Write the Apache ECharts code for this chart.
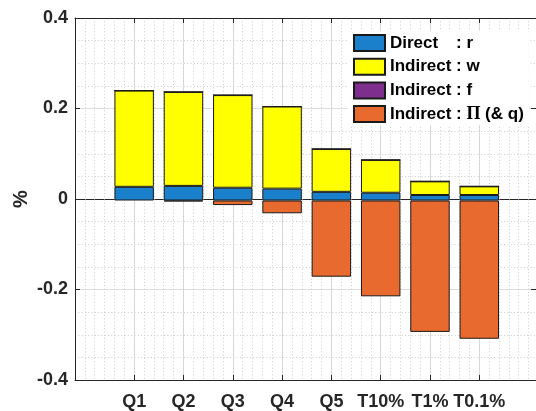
<!DOCTYPE html>
<html>
<head>
<meta charset="utf-8">
<script src="https://cdn.jsdelivr.net/npm/echarts@6/dist/echarts.min.js"></script>
<style>
  html, body { margin: 0; padding: 0; background: #ffffff; }
  #chart { width: 536px; height: 411px; }
</style>
</head>
<body>
<div id="chart"></div>
<script>
// Income groups along the x axis
const categories = ['Q1', 'Q2', 'Q3', 'Q4', 'Q5', 'T10%', 'T1%', 'T0.1%'];

// Decomposition of the effect (%), one value per group
const directR    = [0.030, 0.032, 0.028, 0.026, 0.019, 0.017, 0.012, 0.012];
const indirectW  = [0.211, 0.206, 0.203, 0.180, 0.094, 0.072, 0.030, 0.019];
const indirectF  = [0, 0, 0, 0, 0, 0, 0, 0];
const indirectPi = [0, -0.002, -0.010, -0.028, -0.167, -0.210, -0.288, -0.303];

const seriesNames = ['Direct : r', 'Indirect : w', 'Indirect : f', 'Indirect : Π (& q)'];
const seriesColors = ['#1b80cc', '#ffff00', '#7e2f8e', '#e96a2e'];

const AXIS_COLOR = '#262626';
const FONT = 'Liberation Sans, Arial, Helvetica, sans-serif';

// frame: groups sit at x = 1..8 on a numeric axis running from -0.2 to 9.15
const positions = categories.map((_, i) => i + 1);
const X_MIN = -0.2, X_MAX = 9.15;
const Y_MIN = -0.4, Y_MAX = 0.4;

const FRAME = { left: 75, top: 18, width: 461, height: 365 };
// the bar grid covers exactly the band from x = 0.5 to x = 8.5 of the frame
const unit = FRAME.width / (X_MAX - X_MIN);
const BAR_GRID = {
  left: FRAME.left + (0.5 - X_MIN) * unit,
  top: FRAME.top,
  width: categories.length * unit,
  height: FRAME.height
};

const chart = echarts.init(document.getElementById('chart'), null, { renderer: 'canvas' });

const valueLists = [directR, indirectW, indirectF, indirectPi];
const series = valueLists.map((vals, k) => ({
  type: 'bar',
  name: seriesNames[k],
  stack: 'total',
  stackStrategy: 'samesign',
  barWidth: '80%',
  xAxisIndex: 3,
  yAxisIndex: 3,
  data: vals,
  silent: true,
  emphasis: { disabled: true },
  itemStyle: { color: seriesColors[k], borderColor: '#1a1a1a', borderWidth: 1 }
}));

function legendLabel(name) {
  const parts = name.split(' : ');
  let tail = parts[1];
  if (tail.indexOf('Π') === 0) {
    tail = '{p|Π}{c|' + tail.slice(1) + '}';
  } else {
    tail = '{c|' + tail + '}';
  }
  return '{h|' + parts[0] + '}{c|: }' + tail;
}

const legendText = { fontFamily: FONT, fontWeight: 'bold', fontSize: 17, color: '#000', lineHeight: 16 };

const frameValueAxis = { type: 'value', min: X_MIN, max: X_MAX, gridIndex: 0 };
const frameYAxis = { type: 'value', min: Y_MIN, max: Y_MAX, interval: 0.2, gridIndex: 0 };
const DOTTED = { color: '#cccccc', type: [1, 2.3], width: 1 };

const option = {
  animation: false,
  backgroundColor: '#ffffff',
  grid: [
    Object.assign({ containLabel: false }, FRAME),
    Object.assign({ containLabel: false }, BAR_GRID)
  ],
  legend: {
    orient: 'vertical',
    left: 348,
    top: 31,
    padding: [3, 5, 2, 5],
    backgroundColor: '#ffffff',
    itemWidth: 31,
    itemHeight: 16,
    itemGap: 5.7,
    icon: 'rect',
    selectedMode: false,
    data: seriesNames,
    formatter: legendLabel,
    textStyle: Object.assign({}, legendText, {
      rich: {
        h: Object.assign({}, legendText, { width: 66 }),
        c: Object.assign({}, legendText),
        p: Object.assign({}, legendText, { fontFamily: 'Liberation Serif, DejaVu Serif, serif', fontSize: 18 })
      }
    })
  },
  xAxis: [
    Object.assign({}, frameValueAxis, {
      // bottom axis: group labels, ticks and major grid
      position: 'bottom',
      axisLine: { show: true, onZero: false, lineStyle: { color: AXIS_COLOR, width: 1 } },
      axisTick: { show: true, inside: true, length: 5, customValues: positions, lineStyle: { color: AXIS_COLOR } },
      axisLabel: {
        show: true, customValues: positions, margin: 13,
        fontFamily: FONT, fontWeight: 'bold', fontSize: 18, color: AXIS_COLOR,
        formatter: v => categories[Math.round(v) - 1]
      },
      splitLine: { show: true, lineStyle: { color: '#dcdcdc', width: 1 } }
    }),
    Object.assign({}, frameValueAxis, {
      // top frame
      position: 'top',
      axisLine: { show: true, onZero: false, lineStyle: { color: AXIS_COLOR, width: 1 } },
      axisTick: { show: true, inside: true, length: 5, customValues: positions, lineStyle: { color: AXIS_COLOR } },
      axisLabel: { show: false },
      splitLine: { show: false }
    }),
    Object.assign({}, frameValueAxis, {
      // minor dotted grid every 0.2
      interval: 0.2,
      position: 'bottom',
      axisLine: { show: false, onZero: false },
      axisTick: { show: false },
      axisLabel: { show: false },
      splitLine: { show: true, lineStyle: DOTTED }
    }),
    {
      // category axis carrying the bars
      type: 'category', gridIndex: 1, data: categories, show: false
    }
  ],
  yAxis: [
    Object.assign({}, frameYAxis, {
      position: 'left',
      name: '%', nameLocation: 'middle', nameGap: 44, nameRotate: 90, nameMoveOverlap: false,
      nameTextStyle: { fontFamily: FONT, fontWeight: 'bold', fontSize: 20, color: AXIS_COLOR },
      axisLine: { show: true, onZero: false, lineStyle: { color: AXIS_COLOR, width: 1 } },
      axisTick: { show: true, inside: true, length: 5, lineStyle: { color: AXIS_COLOR } },
      axisLabel: {
        show: true, margin: 7,
        fontFamily: FONT, fontWeight: 'bold', fontSize: 18, color: AXIS_COLOR,
        formatter: v => String(Number(v.toFixed(1)))
      },
      splitLine: { show: true, lineStyle: { color: '#dcdcdc', width: 1 } },
      minorTick: { show: false, splitNumber: 4 },
      minorSplitLine: { show: true, lineStyle: DOTTED }
    }),
    Object.assign({}, frameYAxis, {
      position: 'right',
      axisLine: { show: true, onZero: false, lineStyle: { color: AXIS_COLOR, width: 1 } },
      axisTick: { show: true, inside: true, length: 5, lineStyle: { color: AXIS_COLOR } },
      axisLabel: { show: false },
      splitLine: { show: false }
    }),
    Object.assign({}, frameYAxis, {
      // baseline at zero across the whole frame
      position: 'left',
      axisLine: { show: false, onZero: false },
      axisTick: { show: false, customValues: [0] },
      axisLabel: { show: false },
      splitLine: { show: true, lineStyle: { color: AXIS_COLOR, width: 1 } }
    }),
    {
      type: 'value', gridIndex: 1, min: Y_MIN, max: Y_MAX, show: false
    }
  ],
  series: series
};

chart.setOption(option);
</script>
</body>
</html>
